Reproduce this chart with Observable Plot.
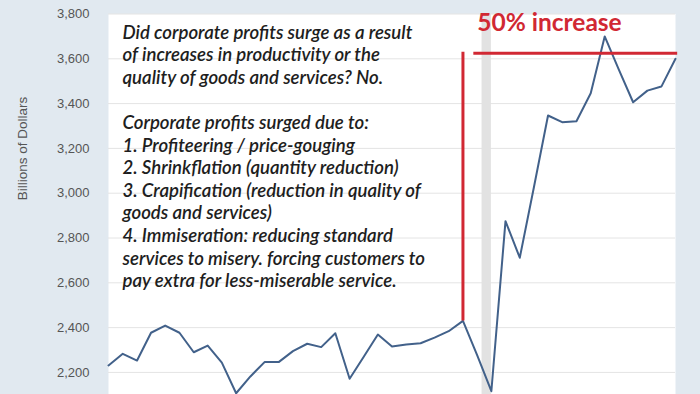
<!DOCTYPE html>
<html><head><meta charset="utf-8">
<script src="https://cdn.jsdelivr.net/npm/d3@7"></script>
<script src="https://cdn.jsdelivr.net/npm/@observablehq/plot@0.6"></script>
<style>
html,body{margin:0;padding:0;background:#e1e9f0;}
#chart{width:700px;height:394px;overflow:hidden;}
</style></head><body><div id="chart"></div>
<script>
const quarters = ["2013-07-01","2013-10-01","2014-01-01","2014-04-01","2014-07-01","2014-10-01",
  "2015-01-01","2015-04-01","2015-07-01","2015-10-01","2016-01-01","2016-04-01","2016-07-01","2016-10-01",
  "2017-01-01","2017-04-01","2017-07-01","2017-10-01","2018-01-01","2018-04-01","2018-07-01","2018-10-01",
  "2019-01-01","2019-04-01","2019-07-01","2019-10-01","2020-01-01","2020-04-01","2020-07-01","2020-10-01",
  "2021-01-01","2021-04-01","2021-07-01","2021-10-01","2022-01-01","2022-04-01","2022-07-01","2022-10-01",
  "2023-01-01","2023-04-01","2023-07-01"];
const profits = [2231,2283,2253,2377,2409,2377,2290,2320,2244,2107,2182,2246,2246,2295,2328,2313,2375,2172,
  2271,2369,2316,2325,2330,2355,2384,2430,2276,2116,2875,2712,3030,3347,3317,3321,3446,3700,3552,3406,3458,3476,3600];
const yTicks = [2200,2400,2600,2800,3000,3200,3400,3600,3800];
const yLabel = "Billions of Dollars";
const recessions = [{start:"2020-02-01", end:"2020-04-01"}];
const noteLines = [
  "Did corporate profits surge as a result",
  "of increases in productivity or the",
  "quality of goods and services? No.",
  "",
  "Corporate profits surged due to:",
  "1. Profiteering / price-gouging",
  "2. Shrinkflation (quantity reduction)",
  "3. Crapification (reduction in quality of",
  "goods and services)",
  "4. Immiseration: reducing standard",
  "services to misery. forcing customers to",
  "pay extra for less-miserable service."
];
const increaseLabel = "50% increase";
const baseQuarter = "2019-10-01";
const baseValue = 2430;
const targetValue = 3625;

const parse = d3.utcParse("%Y-%m-%d");
const data = quarters.map((q, i) => ({date: parse(q), value: profits[i]}));
const xStart = data[0].date, xEnd = data[data.length - 1].date;
const red = "#d12833";

const chart = Plot.plot({
  width: 700, height: 394,
  marginLeft: 108, marginRight: 25, marginTop: 13.5, marginBottom: 0,
  style: {background: "transparent", fontFamily: "'Liberation Sans', Arial, sans-serif", overflow: "visible"},
  x: {type: "utc", domain: [xStart, xEnd], axis: null},
  y: {domain: [2101.4, 3800], axis: null},
  marks: [
    Plot.frame({fill: "white", stroke: null}),
    Plot.gridY(yTicks, {stroke: "#e4e4e4", strokeOpacity: 1, strokeWidth: 1}),
    Plot.rect(recessions, {x1: d => parse(d.start), x2: d => parse(d.end), fill: "#e2e2e2"}),
    Plot.axisY(yTicks, {tickSize: 0, tickPadding: 19, tickFormat: d3.format(","), fontSize: 13, fill: "#555", label: null}),
    Plot.text([yLabel], {text: d => d, frameAnchor: "left", dx: -86, dy: -4, rotate: -90, fontSize: 13.5, fill: "#555"}),
    Plot.text([noteLines.join("\n")], {text: d => d, frameAnchor: "top-left", dx: 14, dy: 8.5, lineAnchor: "top",
      lineHeight: 1.215, fontSize: 18.6, fontStyle: "italic", fontWeight: 600, fontFamily: "Lato", fill: "#1e1e1e", textAnchor: "start"}),
    Plot.line(data, {x: "date", y: "value", stroke: "#42618a", strokeWidth: 2}),
    Plot.ruleX([parse(baseQuarter)], {y1: baseValue, y2: targetValue + 4, stroke: red, strokeWidth: 3}),
    Plot.ruleY([targetValue], {x1: parse("2019-12-10"), x2: parse("2023-07-15"), stroke: red, strokeWidth: 3}),
    Plot.text([increaseLabel], {text: d => d, x: parse("2020-01-01"), y: 3759, textAnchor: "start",
      fontSize: 24.5, fontWeight: "bold", fontFamily: "Lato", fill: red})
  ]
});
document.getElementById("chart").appendChild(chart);
</script></body></html>
